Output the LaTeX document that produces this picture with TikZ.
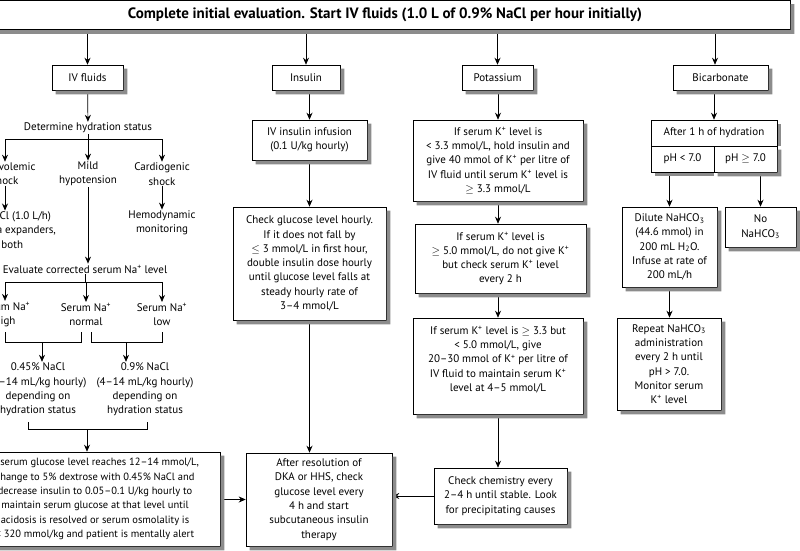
\documentclass[tikz,border=0pt]{standalone}
\usepackage{fontspec}
\setmainfont{PT Sans}
\usetikzlibrary{arrows.meta, calc}
\definecolor{shadowgray}{RGB}{140,140,140}
\newcommand{\kp}{\textsuperscript{+}}

\begin{document}
\begin{tikzpicture}[x=1pt, y=-1pt,
    box/.style={rectangle, draw=black, fill=white, line width=0.6pt, align=center, inner sep=2pt, font=\fontsize{11}{14.3}\selectfont},
    plain/.style={align=center, inner sep=1pt, font=\fontsize{11}{14.3}\selectfont},
    arr/.style={-{Stealth[length=7pt, width=6pt]}, line width=0.7pt},
    link/.style={line width=0.7pt},
    boxshadow/.style={fill=shadowgray, draw=none}
]
\useasboundingbox (0,0) rectangle (800,550);
\clip (0,0) rectangle (800,550);

% top row
\node[box, minimum width=810pt, minimum height=29pt, font=\bfseries\fontsize{15}{18}\selectfont] (title) at (385,15) {Complete initial evaluation. Start IV fluids (1.0 L of 0.9\% NaCl per hour initially)};
\node[box, minimum width=71pt, minimum height=25pt] (ivfl) at (87.5,77.5) {IV fluids};
\node[box, minimum width=68pt, minimum height=25pt] (insulin) at (306,77.5) {Insulin};
\node[box, minimum width=71pt, minimum height=25pt] (potass) at (497.5,77.5) {Potassium};
\node[box, minimum width=95pt, minimum height=25pt] (bicarb) at (720.5,77.5) {Bicarbonate};

\draw[arr] (title.south -| ivfl) -- (ivfl);
\draw[arr] (title.south -| insulin) -- (insulin);
\draw[arr] (title.south -| potass) -- (potass);
\draw[arr] (title.south -| 715,0) -- (bicarb.north -| 715,0);

% IV fluids
\node[plain] (hydr) at (88,128) {Determine hydration status};
\node[plain] (hypo) at (5,174) {Hypovolemic\\shock};
\node[plain] (mild) at (88,174) {Mild\\hypotension};
\node[plain] (cardio) at (162,174) {Cardiogenic\\shock};
\node[plain] (plasma) at (6,230) {0.9\% NaCl (1.0 L/h)\\or plasma expanders,\\or both};
\node[plain] (hemo) at (162,223) {Hemodynamic\\monitoring};
\node[plain] (evalna) at (85,269) {Evaluate corrected serum Na\kp{} level};
\node[plain] (nahigh) at (5,314.5) {Serum Na\kp\\high};
\node[plain] (nanorm) at (86,314.5) {Serum Na\kp\\normal};
\node[plain] (nalow) at (162,314.5) {Serum Na\kp\\low};
\node[plain] (half) at (38,389.5) {0.45\% NaCl\\(4--14 mL/kg hourly)\\depending on\\hydration status};
\node[plain] (ninep) at (145,389.5) {0.9\% NaCl\\(4--14 mL/kg hourly)\\depending on\\hydration status};
\node[box, minimum width=250pt, minimum height=94pt, font=\fontsize{10.5}{14.3}\selectfont] (glucbox) at (95,499) {If serum glucose level reaches 12--14 mmol/L,\\change to 5\% dextrose with 0.45\% NaCl and\\decrease insulin to 0.05--0.1 U/kg hourly to\\maintain serum glucose at that level until\\acidosis is resolved or serum osmolality is\\< 320 mmol/kg and patient is mentally alert};

\coordinate (hb) at (88,139);
\coordinate (nb) at (85,282);
\draw[arr] (ivfl) -- (hydr);
\draw[link] (hydr) -- (hb);
\draw[link] (hypo.north |- hb) -- (cardio.north |- hb);
\draw[arr] (hypo.north |- hb) -- (hypo);
\draw[arr] (mild.north |- hb) -- (mild);
\draw[arr] (cardio.north |- hb) -- (cardio);
\draw[arr] (hypo) -- (plasma.north -| hypo);
\draw[arr] (cardio) -- (hemo);
\draw[arr] (mild) -- (mild |- evalna.north);
\draw[link] (evalna) -- (nb);
\draw[link] (nahigh.north |- nb) -- (nalow.north |- nb);
\draw[arr] (nahigh.north |- nb) -- (nahigh);
\draw[arr] (nanorm.north |- nb) -- (nanorm);
\draw[arr] (nalow.north |- nb) -- (nalow);
\draw[link] (5,332) |- (81,342) -- (81,332);
\draw[link] (91,332) |- (162,342) -- (162,332);
\draw[arr] (42,342) -- (half.north -| 42,0);
\draw[arr] (126,342) -- (ninep.north -| 126,0);
\draw[link] (28,422) |- (147,429) -- (147,422);
\draw[arr] (87,429) -- (glucbox.north -| 87,0);

% insulin
\node[box, minimum width=115pt, minimum height=40pt] (ivinf) at (309.5,140) {IV insulin infusion\\(0.1 U/kg hourly)};
\node[box, minimum width=153pt, minimum height=113pt] (checkgl) at (309.5,263.5) {Check glucose level hourly.\\If it does not fall by\\$\leq$ 3 mmol/L in first hour,\\double insulin dose hourly\\until glucose level falls at\\steady hourly rate of\\3--4 mmol/L};
\node[box, minimum width=146pt, minimum height=93pt] (after) at (319,499.5) {After resolution of\\DKA or HHS, check\\glucose level every\\4 h and start\\subcutaneous insulin\\therapy};

\draw[arr] (insulin.south -| ivinf) -- (ivinf);
\draw[arr] (ivinf) -- (checkgl);
\draw[arr] (checkgl.south) -- (checkgl.south |- after.north);
\draw[arr] (glucbox.east |- after.west) -- (after.west);

% potassium
\node[box, minimum width=170pt, minimum height=81pt] (kone) at (498,160.5) {If serum K\kp{} level is\\< 3.3 mmol/L, hold insulin and\\give 40 mmol of K\kp{} per litre of\\IV fluid until serum K\kp{} level is\\$\geq$ 3.3 mmol/L};
\node[box, minimum width=171pt, minimum height=69pt] (ktwo) at (500.5,258.5) {If serum K\kp{} level is\\$\geq$ 5.0 mmol/L, do not give K\kp\\but check serum K\kp{} level\\every 2 h};
\node[box, minimum width=170pt, minimum height=96pt] (kthree) at (498,366) {If serum K\kp{} level is $\geq$ 3.3 but\\< 5.0 mmol/L, give\\20--30 mmol of K\kp{} per litre of\\IV fluid to maintain serum K\kp\\level at 4--5 mmol/L\\ \mbox{}};
\node[box, minimum width=133pt, minimum height=56pt] (chem) at (500.5,496) {Check chemistry every\\2--4 h until stable. Look\\for precipitating causes};

\draw[arr] (potass.south -| kone) -- (kone);
\draw[arr] (kone.south) -- (kone.south |- ktwo.north);
\draw[arr] (ktwo.south -| kthree) -- (kthree);
\draw[arr] (kthree.south) -- (kthree.south |- chem.north);
\draw[arr] (chem.west) -- (after.east |- chem.west);

% bicarbonate
\node[box, minimum width=126pt, minimum height=26pt] (hyd) at (714,133) {After 1 h of hydration};
\node[box, minimum width=63pt, minimum height=26pt] (phlow) at (682.5,159) {pH < 7.0};
\node[box, minimum width=63pt, minimum height=26pt] (phhigh) at (745.5,159) {pH $\geq$ 7.0};
\node[box, minimum width=95pt, minimum height=80pt] (dilute) at (669.5,247) {Dilute NaHCO\textsubscript{3}\\(44.6 mmol) in\\200 mL H\textsubscript{2}O.\\Infuse at rate of\\200 mL/h};
\node[box, minimum width=71pt, minimum height=40pt] (nobic) at (760.5,227) {No\\NaHCO\textsubscript{3}};
\node[box, minimum width=104pt, minimum height=92pt] (repeat) at (669,364) {Repeat NaHCO\textsubscript{3}\\administration\\every 2 h until\\pH > 7.0.\\Monitor serum\\K\kp{} level};

\draw[arr] (bicarb.south -| hyd) -- (hyd);
\draw[arr] (dilute.north |- phlow.south) -- (dilute.north);
\draw[arr] (nobic.north |- phhigh.south) -- (nobic.north);
\draw[arr] (dilute.south) -- (dilute.south |- repeat.north);

% shadows along the right and lower sides
\foreach \n in {title, ivfl, insulin, potass, bicarb, glucbox, ivinf, checkgl, after, kone, ktwo, kthree, chem, phhigh, dilute, nobic, repeat}
  \fill[boxshadow] ($(\n.north east)+(0.4,4)$) -- ($(\n.north east)+(4,4)$) -- ($(\n.south east)+(4,4)$) -- ($(\n.south west)+(4,4)$) -- ($(\n.south west)+(4,0.4)$) -- ($(\n.south east)+(0.4,0.4)$) -- cycle;
\fill[boxshadow] ($(hyd.north east)+(0.4,4)$) rectangle ($(hyd.south east)+(4,0)$);
\fill[boxshadow] ($(phlow.south west)+(4,0.4)$) rectangle ($(phlow.south east)+(0,4)$);
\end{tikzpicture}
\end{document}
